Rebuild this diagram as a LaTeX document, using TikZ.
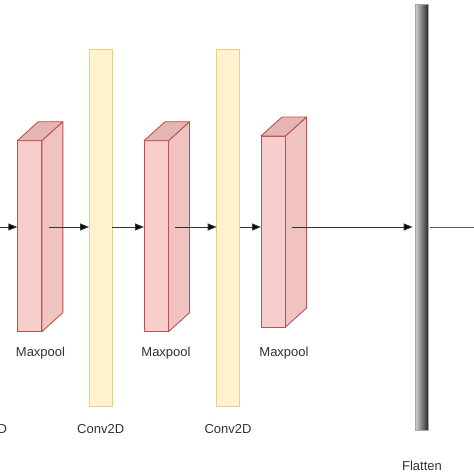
\documentclass[tikz,border=0pt]{standalone}
\usepackage{fontspec}
\setmainfont{Liberation Sans}
\usetikzlibrary{calc,arrows.meta}
\definecolor{mpfront}{HTML}{F8CECC}
\definecolor{mpside}{HTML}{F0C3C1}
\definecolor{mptop}{HTML}{E5B5B3}
\definecolor{mpline}{HTML}{B85450}
\definecolor{cvfill}{HTML}{FFF2CC}
\definecolor{cvline}{HTML}{E3CF8E}
\definecolor{txt}{HTML}{333333}
\definecolor{arr}{HTML}{333333}
\tikzset{
  front/.style={draw=mpline, fill=mpfront, line width=0.9pt, inner sep=0pt, outer sep=0pt, anchor=north west, minimum width=24.5pt, minimum height=191pt},
  face/.style={draw=mpline, line width=0.9pt, line join=round},
  convbar/.style={draw=cvline, fill=cvfill, line width=0.9pt, inner sep=0pt, outer sep=0pt, anchor=north west, minimum width=23pt, minimum height=357pt},
  flatbar/.style={draw=gray!70, left color=gray!40, right color=black!85, line width=0.6pt, inner sep=0pt, outer sep=0pt, anchor=north west, minimum width=12.6pt, minimum height=426pt},
  lbl/.style={text=txt, font=\fontsize{13}{15}\selectfont, inner sep=0pt},
  conn/.style={draw=arr, line width=0.9pt, -{Triangle[length=9pt,width=7pt,fill=black]}},
  plain/.style={draw=black!65, line width=0.9pt}
}
\begin{document}
\begin{tikzpicture}[x=1pt,y=-1pt]
\useasboundingbox (0,0) rectangle (474,474);
\clip (0,0) rectangle (474,474);
\fill[white] (0,0) rectangle (474,474);

% conv bars
\node[convbar] (c1) at (89,49) {};
\node[convbar] (c2) at (216.7,49) {};
% flatten
\node[flatbar] (fl) at (415.7,4) {};

% maxpool cubes
\foreach \n/\x/\y in {m1/17.3/140.7, m2/144/140.7, m3/261/136}{
  \node[front] (\n) at (\x,\y) {};
  \draw[face, fill=mpside] (\n.north east) -- ($(\n.north east)+(21,-19)$) -- ($(\n.south east)+(21,-19)$) -- (\n.south east) -- cycle;
  \draw[face, fill=mptop] (\n.north west) -- ($(\n.north west)+(21,-19)$) -- ($(\n.north east)+(21,-19)$) -- (\n.north east) -- cycle;
}

% connectors
\coordinate (in) at (0,227);
\coordinate (out) at (474,227);
\draw[conn] (in) -- (in -| m1.west);
\draw[conn] ([xshift=7pt]m1.east |- in) -- (in -| c1.west);
\draw[conn] (in -| c1.east) -- (in -| m2.west);
\draw[conn] ([xshift=6pt]m2.east |- in) -- (in -| c2.west);
\draw[conn] (in -| c2.east) -- (in -| m3.west);
\draw[conn] ([xshift=6pt]m3.east |- in) -- ([xshift=-3pt]in -| fl.west);
\draw[plain] ([xshift=2pt]in -| fl.east) -- (out);

% labels
\node[lbl] (lm1) at (40.5,353) {Maxpool};
\node[lbl] (lm2) at (166,353) {Maxpool};
\node[lbl] (lm3) at (284,353) {Maxpool};
\node[lbl] (lc0) at (-16.5,429) {Conv2D};
\node[lbl] (lc1) at (100.7,429) {Conv2D};
\node[lbl] (lc2) at (228,429) {Conv2D};
\node[lbl] (lfl) at (422,466) {Flatten};
\end{tikzpicture}
\end{document}
